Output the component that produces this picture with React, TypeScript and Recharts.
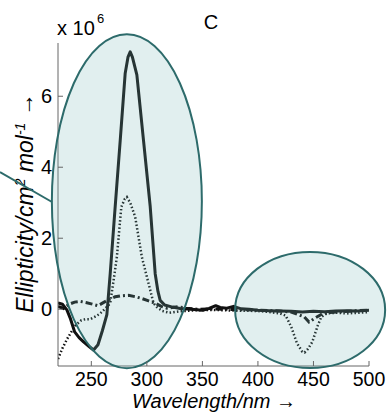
import React from 'react';
import { LineChart, Line, XAxis, YAxis, ReferenceDot } from 'recharts';

// ---- data (ellipticity in units of 10^6) ----
const xTicks = [250, 300, 350, 400, 450, 500];
const yTicks = [0, 2, 4, 6];

const solidWl = [220,224,228,231,235,239,243,248,252,256,260,264,267,271.5,276,280.5,283,285,287,291,297,303,307.5,310,312,316,323,330,340,350,356,362,366,372,378,385,392,400,410,420,430,440,450,460,470,480,490,500];
const solidVal = [0.18,0.14,-0.02,-0.25,-0.64,-0.8,-0.92,-1.05,-1.15,-1.0,-0.6,-0.15,1.0,2.9,4.75,6.65,7.1,7.25,7.1,6.6,4.75,2.9,1.0,0.5,0.25,0.12,0.06,0.02,0.0,-0.03,0.02,0.1,0.05,0.03,0.08,0.01,0.0,-0.03,-0.04,-0.05,-0.06,-0.08,-0.06,-0.07,-0.05,-0.04,-0.05,-0.03];

const dotWl = [220,224,228,232,236,241,245,249,254,258,262,265,267,270,273,277,280,282,285,289.5,295.5,301.5,306,309,314,320,330,345,360,380,400,410,420,425,430,435,440,442,445,449,454,457,462,470,480,490,500];
const dotVal = [-1.4,-1.1,-0.85,-0.64,-0.45,-0.31,-0.28,-0.28,-0.2,-0.12,0.0,0.1,0.17,0.8,1.47,2.88,3.1,3.16,3.0,2.6,1.47,0.73,0.17,0.06,-0.05,-0.1,-0.06,-0.03,-0.02,-0.04,-0.05,-0.08,-0.12,-0.18,-0.5,-0.95,-1.2,-1.22,-1.12,-0.92,-0.45,-0.22,-0.12,-0.1,-0.12,-0.1,-0.08];

const ddWl = [220,225,230,235,240,245,250,256,260,265,271.5,277,283.5,290,295.5,301,307.5,313,318,323,328.5,335,345,360,380,400,420,430,436,441.8,446,451,458.4,465,475,490,500];
const ddVal = [0.08,0.02,0.14,0.2,0.22,0.19,0.15,0.1,0.17,0.26,0.35,0.38,0.39,0.35,0.3,0.24,0.17,0.08,0.03,0.05,0.07,0.03,0.0,0.01,-0.01,-0.03,-0.05,-0.08,-0.15,-0.22,-0.36,-0.26,-0.12,-0.09,-0.07,-0.04,-0.03];

// annotation ellipse centres (data coordinates)
const ellipseWl = [282, 447];
const ellipseVal = [3.04, -0.02];

const toRows = (wl: number[], v: number[]) => wl.map((w, i) => ({ wl: w, v: v[i] }));
const solidData = toRows(solidWl, solidVal);
const dotData = toRows(dotWl, dotVal);
const ddData = toRows(ddWl, ddVal);

const FONT = '"Liberation Sans", Arial, Helvetica, sans-serif';
const AXIS = '#666';
const TEAL = '#2d6b6b';

const BottomTick = (p: any) => (
  <g>
    <line x1={p.x} x2={p.x} y1={p.y} y2={p.y - 5} stroke={AXIS} />
    <text x={p.x} y={p.y + 20} textAnchor="middle" fontSize={19.5} fontFamily={FONT} fill="#000">{p.payload.value}</text>
  </g>
);
const TopTick = (p: any) => (
  <line x1={p.x} x2={p.x} y1={p.y} y2={p.y + 5} stroke={AXIS} />
);
const LeftTick = (p: any) => (
  <g>
    <line x1={p.x} x2={p.x + 5} y1={p.y} y2={p.y} stroke={AXIS} />
    <text x={p.x - 6} y={p.y + 7} textAnchor="end" fontSize={20} fontFamily={FONT} fill="#000">{p.payload.value}</text>
  </g>
);
const RightTick = (p: any) => (
  <line x1={p.x} x2={p.x - 5} y1={p.y} y2={p.y} stroke={AXIS} />
);

const makeEllipse = (rx: number, ry: number) => (p: any) => (
  <ellipse cx={p.cx} cy={p.cy} rx={rx} ry={ry} fill="rgb(120,180,180)" fillOpacity={0.22} stroke={TEAL} strokeWidth={2} />
);

export default function App() {
  return (
    <div style={{ position: 'absolute', left: 0, top: 0, width: 387, height: 412, background: '#fff' }}>
      <LineChart width={387} height={412} margin={{ top: 43, right: 18, bottom: 16, left: 8 }}>
        <XAxis xAxisId="b" dataKey="wl" type="number" domain={[220, 500]} ticks={xTicks} allowDataOverflow interval={0}
          height={30} tickLine={false} tickSize={0} tickMargin={0} tick={BottomTick} axisLine={{ stroke: AXIS }} />
        <XAxis xAxisId="t" orientation="top" dataKey="wl" type="number" domain={[220, 500]} ticks={xTicks} allowDataOverflow interval={0}
          height={0} tickLine={false} tickSize={0} tickMargin={0} tick={TopTick} axisLine={{ stroke: AXIS }} />
        <YAxis yAxisId="l" type="number" domain={[-1.6, 7.5]} ticks={yTicks} allowDataOverflow interval={0}
          width={50} tickLine={false} tickSize={0} tickMargin={0} tick={LeftTick} axisLine={{ stroke: AXIS }} />
        <YAxis yAxisId="r" orientation="right" type="number" domain={[-1.6, 7.5]} ticks={yTicks} allowDataOverflow interval={0}
          width={0} tickLine={false} tickSize={0} tickMargin={0} tick={RightTick} axisLine={{ stroke: AXIS }} />
        <Line xAxisId="b" yAxisId="l" data={solidData} dataKey="v" type="linear" dot={false} stroke="#111" strokeWidth={3}
          strokeLinejoin="round" isAnimationActive={false} />
        <Line xAxisId="b" yAxisId="l" data={dotData} dataKey="v" type="linear" dot={false} stroke="#111" strokeWidth={2.5}
          strokeDasharray="1.5 2.2" isAnimationActive={false} />
        <Line xAxisId="b" yAxisId="l" data={ddData} dataKey="v" type="linear" dot={false} stroke="#111" strokeWidth={3}
          strokeDasharray="7 3 2 3" isAnimationActive={false} />
        <ReferenceDot xAxisId="b" yAxisId="l" x={ellipseWl[0]} y={ellipseVal[0]} r={1} ifOverflow="visible" shape={makeEllipse(75, 167)} />
        <ReferenceDot xAxisId="b" yAxisId="l" x={ellipseWl[1]} y={ellipseVal[1]} r={1} ifOverflow="visible" shape={makeEllipse(75, 58)} />
      </LineChart>
      <svg width={387} height={412} style={{ position: 'absolute', left: 0, top: 0, pointerEvents: 'none' }}>
        <text x={57} y={35} fontSize={20} fontFamily={FONT} fill="#000">x 10</text>
        <text x={97} y={23} fontSize={13} fontFamily={FONT} fill="#000">6</text>
        <text x={211} y={29} fontSize={20} fontFamily={FONT} fill="#000" textAnchor="middle">C</text>
        <text x={214} y={407.8} fontSize={20} fontFamily={FONT} fill="#000" textAnchor="middle">
          <tspan fontStyle="italic">Wavelength/nm</tspan> →
        </text>
        <text x={33} y={203} transform="rotate(-90 33 203)" fontSize={23} fontFamily={FONT} fill="#000" textAnchor="middle">
          <tspan fontStyle="italic">Ellipticity/cm</tspan>
          <tspan fontStyle="italic" fontSize={14} dy={-8}>2</tspan>
          <tspan fontStyle="italic" dy={8}> mol</tspan>
          <tspan fontStyle="italic" fontSize={14} dy={-8}>-1</tspan>
          <tspan dy={8}> →</tspan>
        </text>
        <line x1={0} y1={172} x2={52} y2={202} stroke={TEAL} strokeWidth={2} />
      </svg>
    </div>
  );
}
